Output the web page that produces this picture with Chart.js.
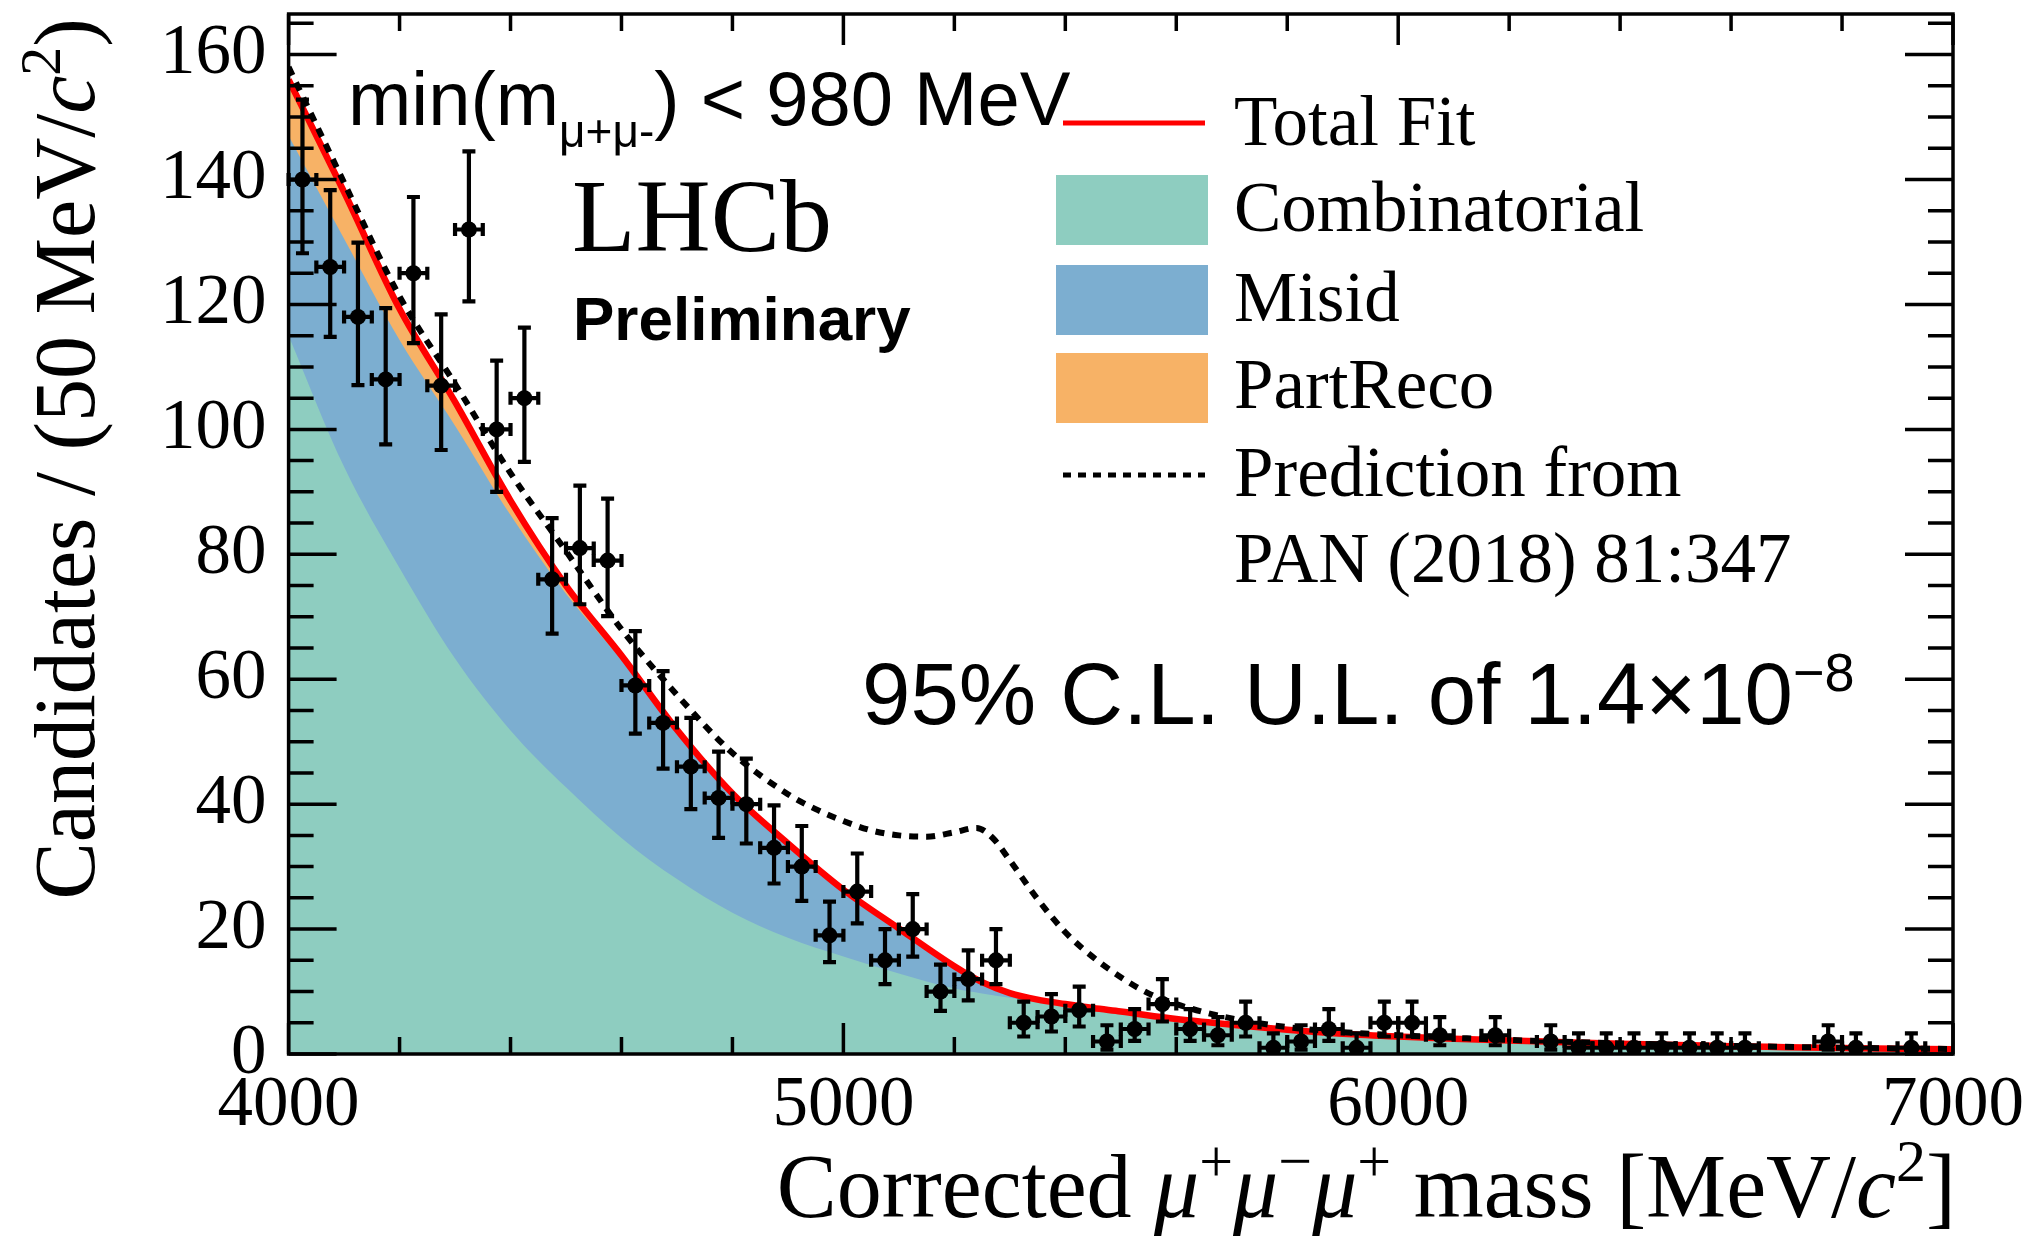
<!DOCTYPE html>
<html>
<head>
<meta charset="utf-8">
<script src="https://cdn.jsdelivr.net/npm/chart.js@4.4.1/dist/chart.umd.min.js"></script>
<style>
  html, body { margin: 0; padding: 0; background: #ffffff; }
  #wrap { width: 2037px; height: 1241px; }
</style>
</head>
<body>
<div id="wrap"><canvas id="c" width="2037" height="1241"></canvas></div>
<script>
// ---- Data: corrected mu+ mu- mu+ mass, 50 MeV/c^2 bins ----
const binCentres = [4025,4075,4125,4175,4225,4275,4325,4375,4425,4475,
                    4525,4575,4625,4675,4725,4775,4825,4875,4925,4975,
                    5025,5075,5125,5175,5225,5275,5325,5375,5425,5475,
                    5525,5575,5625,5675,5725,5775,5825,5875,5925,5975,
                    6025,6075,6125,6175,6225,6275,6325,6375,6425,6475,
                    6525,6575,6625,6675,6725,6775,6825,6875,6925,6975];
// Candidates per bin (null = empty bin, not drawn)
const counts = [140,126,118,108,125,107,132,100,105,76,
                81,79,59,53,46,41,40,33,30,19,
                26,15,20,10,12,15,5,6,7,2,
                4,8,4,3,5,1,2,4,1,5,
                5,3,null,3,null,2,1,1,1,1,
                1,1,1,null,null,2,1,null,1,null];
// Asymmetric (Poisson) error bars
const errLow  = [11.8,11.2,10.9,10.4,11.2,10.3,11.5,10.0,10.2,8.7,
                 9.0,8.9,7.7,7.3,6.8,6.4,6.3,5.7,5.5,4.3,
                 5.1,3.8,4.4,3.1,3.4,3.8,2.2,2.4,2.6,1.3,
                 1.9,2.8,1.9,1.6,2.2,0.8,1.3,1.9,0.8,2.2,
                 2.2,1.6,null,1.6,null,1.3,0.8,0.8,0.8,0.8,
                 0.8,0.8,0.8,null,null,1.3,0.8,null,0.8,null];
const errHigh = [12.8,12.3,11.9,11.4,12.2,11.4,12.5,11.0,11.3,9.8,
                 10.0,9.9,8.7,8.3,7.8,7.4,7.3,6.8,6.5,5.4,
                 6.1,5.0,5.6,4.3,4.6,5.0,3.4,3.6,3.8,2.6,
                 3.2,4.0,3.2,2.9,3.4,2.3,2.6,3.2,2.3,3.4,
                 3.4,2.9,null,2.9,null,2.6,2.3,2.3,2.3,2.3,
                 2.3,2.3,2.3,null,null,2.6,2.3,null,2.3,null];
const binHalfWidth = 25;

// ---- Fit components ----
const fitMass = [4000,4100,4200,4300,4400,4500,4600,4700,4800,4900,
                 5000,5100,5200,5250,5300,5350,5400,5450,5500,5600,
                 5700,5800,5900,6000,6100,6200,6300,6400,6500,6600,
                 6700,6800,6900,7000];
const combinatorial = [115,94,77.8,63.3,51.8,42.7,34.6,28,22.6,18.6,
                       15.6,12.9,10.5,9.7,9.0,8.4,7.9,7.35,6.8,5.6,
                       4.7,3.9,3.25,2.8,2.45,2.15,1.9,1.65,1.45,1.25,
                       1.1,0.95,0.85,0.75];
const misid = [32,36.5,36.5,37.3,34.5,31,28.5,23.5,18.8,14.8,
               10.5,7.0,3.4,1.7,0.7,0.3,0.1,0,0,0,
               0,0,0,0,0,0,0,0,0,0,
               0,0,0,0];
const partReco = [9,7.5,5,3.8,2.3,1.3,0.7,0.4,0.3,0.3,
                  0.2,0.2,0.15,0.1,0.05,0,0,0,0,0,
                  0,0,0,0,0,0,0,0,0,0,
                  0,0,0,0];

// ---- Prediction from PAN (2018) 81:347 ----
const predMass = [4000,4100,4200,4300,4400,4500,4600,4700,4800,4900,
                  4950,5000,5050,5100,5150,5200,5240,5270,5300,5350,
                  5400,5450,5500,5550,5600,5650,5700,5800,5900,6000,
                  6200,6400,6600,6800,7000];
const prediction = [158,139.5,121.3,107.3,93,80.5,68,57.5,48.2,41.6,
                    39.2,37.3,35.8,35.0,34.8,35.5,36.2,34.5,31.0,24.8,
                    19.5,15.5,12.3,9.7,8.0,6.7,5.7,4.3,3.5,3.0,
                    2.25,1.7,1.3,1.0,0.8];

// ---- Axis ticks ----
const xTicks = [4000,5000,6000,7000];
const yTicks = [0,20,40,60,80,100,120,140,160];
const xRange = [4000,7000];
const yRange = [0,166.5];

// ---- Styling ----
const COLORS = {
  comb: '#8ecdc0',
  misid: '#7caed0',
  part: '#f7b266',
  fit: '#ff0000',
  ink: '#000000'
};
const SERIF = "'Liberation Serif', 'Times New Roman', serif";
const SANS = "'Liberation Sans', Arial, Helvetica, sans-serif";

// cumulative stacks for the filled components
const stackComb = combinatorial.map((v, i) => ({ x: fitMass[i], y: v }));
const stackMisid = combinatorial.map((v, i) => ({ x: fitMass[i], y: v + misid[i] }));
const stackTotal = combinatorial.map((v, i) => ({ x: fitMass[i], y: v + misid[i] + partReco[i] }));

const lineBase = {
  pointRadius: 0,
  pointHoverRadius: 0,
  cubicInterpolationMode: 'monotone',
  borderColor: 'rgba(0,0,0,0)',
  borderWidth: 0
};

const datasets = [
  Object.assign({}, lineBase, { label: 'PartReco', data: stackTotal, fill: 'origin',
    backgroundColor: COLORS.part, order: 6 }),
  Object.assign({}, lineBase, { label: 'Misid', data: stackMisid, fill: 'origin',
    backgroundColor: COLORS.misid, order: 5 }),
  Object.assign({}, lineBase, { label: 'Combinatorial', data: stackComb, fill: 'origin',
    backgroundColor: COLORS.comb, order: 4 }),
  Object.assign({}, lineBase, { label: 'Total Fit', data: stackTotal, fill: false,
    borderColor: COLORS.fit, borderWidth: 6.5, order: 3 }),
  Object.assign({}, lineBase, { label: 'Prediction from|PAN (2018) 81:347',
    data: predMass.map((m, i) => ({ x: m, y: prediction[i] })), fill: false,
    borderColor: COLORS.ink, borderWidth: 6, borderDash: [9, 8], order: 2 }),
  { label: 'Data', data: binCentres.map((m, i) => ({ x: m, y: counts[i] })),
    showLine: false, pointRadius: 8, pointHoverRadius: 8, pointStyle: 'circle',
    pointBackgroundColor: COLORS.ink, pointBorderWidth: 0, order: 1 }
];

// error bars on the data points
const errorBars = {
  id: 'errorBars',
  afterDatasetsDraw(chart) {
    const { ctx, scales: { x, y } } = chart;
    ctx.save();
    ctx.strokeStyle = COLORS.ink;
    ctx.lineWidth = 4.2;
    ctx.lineCap = 'butt';
    const cap = 6.5;
    binCentres.forEach((m, i) => {
      if (counts[i] === null) return;
      const px = x.getPixelForValue(m);
      const py = y.getPixelForValue(counts[i]);
      const yLo = y.getPixelForValue(Math.max(0, counts[i] - errLow[i]));
      const yHi = y.getPixelForValue(counts[i] + errHigh[i]);
      const xL = x.getPixelForValue(m - binHalfWidth);
      const xR = x.getPixelForValue(m + binHalfWidth);
      ctx.beginPath();
      ctx.moveTo(px, yLo); ctx.lineTo(px, yHi);
      ctx.moveTo(px - cap, yLo); ctx.lineTo(px + cap, yLo);
      ctx.moveTo(px - cap, yHi); ctx.lineTo(px + cap, yHi);
      ctx.moveTo(xL, py); ctx.lineTo(xR, py);
      ctx.moveTo(xL, py - cap); ctx.lineTo(xL, py + cap);
      ctx.moveTo(xR, py - cap); ctx.lineTo(xR, py + cap);
      ctx.stroke();
    });
    ctx.restore();
  }
};

// frame with inward ticks on all four sides
const frameTicks = {
  id: 'frameTicks',
  afterDatasetsDraw(chart) {
    const { ctx, chartArea: a, scales: { x, y } } = chart;
    ctx.save();
    ctx.strokeStyle = COLORS.ink;
    ctx.lineWidth = 3.5;
    ctx.beginPath();
    const yMinorStep = 5, yMajorStep = 20;
    for (let v = yRange[0]; v <= yRange[1]; v += yMinorStep) {
      const py = y.getPixelForValue(v);
      const len = (v % yMajorStep === 0) ? 48 : 25;
      ctx.moveTo(a.left, py); ctx.lineTo(a.left + len, py);
      ctx.moveTo(a.right, py); ctx.lineTo(a.right - len, py);
    }
    const xMinorStep = 200, xMajorStep = 1000;
    for (let v = xRange[0]; v <= xRange[1]; v += xMinorStep) {
      const px = x.getPixelForValue(v);
      const len = (v % xMajorStep === 0) ? 31 : 17;
      ctx.moveTo(px, a.bottom); ctx.lineTo(px, a.bottom - len);
      ctx.moveTo(px, a.top); ctx.lineTo(px, a.top + len);
    }
    ctx.stroke();
    ctx.lineWidth = 3.5;
    ctx.strokeRect(a.left, a.top, a.right - a.left, a.bottom - a.top);
    ctx.restore();
  }
};

// draw a run of text pieces with different fonts / offsets
function drawRuns(ctx, runs, x, y, align) {
  let total = 0;
  runs.forEach(r => { ctx.font = r.font; r.w = ctx.measureText(r.text).width; total += r.w; });
  let cx = align === 'right' ? x - total : x;
  runs.forEach(r => {
    ctx.font = r.font;
    ctx.fillText(r.text, cx, y + (r.dy || 0));
    cx += r.w;
  });
}

// labels, titles and legend
const annotations = {
  id: 'annotations',
  afterDraw(chart) {
    const { ctx } = chart;
    ctx.save();
    ctx.fillStyle = COLORS.ink;
    ctx.textBaseline = 'alphabetic';
    ctx.textAlign = 'left';

    // x axis title
    const xf = '90px ' + SERIF, xi = 'italic 90px ' + SERIF, xs = '60px ' + SERIF;
    drawRuns(ctx, [
      { text: 'Corrected ', font: xf },
      { text: '\u03bc', font: xi }, { text: '+', font: xs, dy: -36 },
      { text: '\u03bc', font: xi }, { text: '\u2212', font: xs, dy: -36 },
      { text: '\u03bc', font: xi }, { text: '+', font: xs, dy: -36 },
      { text: ' mass [MeV/', font: xf },
      { text: 'c', font: xi }, { text: '2', font: xs, dy: -36 },
      { text: ']', font: xf }
    ], 1956, 1217, 'right');

    // y axis title
    const yf = '86px ' + SERIF, yi = 'italic 86px ' + SERIF, ys = '58px ' + SERIF;
    ctx.save();
    ctx.translate(94, 18);
    ctx.rotate(-Math.PI / 2);
    drawRuns(ctx, [
      { text: 'Candidates / (50 MeV/', font: yf },
      { text: 'c', font: yi }, { text: '2', font: ys, dy: -34 },
      { text: ')', font: yf }
    ], 0, 0, 'right');
    ctx.restore();

    // selection label
    drawRuns(ctx, [
      { text: 'min(m', font: '76px ' + SANS },
      { text: '\u03bc+\u03bc-', font: '46px ' + SANS, dy: 22 },
      { text: ') < 980 MeV', font: '76px ' + SANS }
    ], 348, 125, 'left');

    ctx.font = '104px ' + SERIF;
    ctx.fillText('LHCb', 572, 251);
    ctx.font = 'bold 62px ' + SANS;
    ctx.fillText('Preliminary', 573, 340);

    drawRuns(ctx, [
      { text: '95% C.L. U.L. of 1.4\u00d710', font: '87px ' + SANS },
      { text: '\u22128', font: '54px ' + SANS, dy: -33 }
    ], 862, 724, 'left');

    // legend
    const ds = chart.data.datasets;
    const lgFont = '71px ' + SERIF;
    const swX = 1056, swW = 152, txX = 1234;
    ctx.font = lgFont;
    ctx.strokeStyle = ds[3].borderColor;
    ctx.lineWidth = 5;
    ctx.beginPath(); ctx.moveTo(1063, 123); ctx.lineTo(1205, 123); ctx.stroke();
    ctx.fillText(ds[3].label, txX, 145);
    [[ds[2], 175, 231], [ds[1], 265, 321], [ds[0], 353, 408]].forEach(([d, top, base]) => {
      ctx.fillStyle = d.backgroundColor;
      ctx.fillRect(swX, top, swW, 70);
      ctx.fillStyle = COLORS.ink;
      ctx.fillText(d.label, txX, base);
    });
    ctx.strokeStyle = COLORS.ink;
    ctx.lineWidth = 5;
    ctx.setLineDash([8, 7]);
    ctx.beginPath(); ctx.moveTo(1063, 475); ctx.lineTo(1205, 475); ctx.stroke();
    ctx.setLineDash([]);
    const predLines = ds[4].label.split('|');
    ctx.fillText(predLines[0], txX, 496);
    ctx.fillText(predLines[1], txX, 582);
    ctx.restore();
  }
};

new Chart(document.getElementById('c'), {
  type: 'line',
  data: { datasets },
  options: {
    responsive: false,
    devicePixelRatio: 1,
    animation: false,
    events: [],
    layout: { padding: { left: 0, top: 14, right: 84, bottom: 0 } },
    plugins: { legend: { display: false }, tooltip: { enabled: false }, title: { display: false } },
    scales: {
      x: {
        type: 'linear', min: xRange[0], max: xRange[1],
        afterBuildTicks: s => { s.ticks = xTicks.map(v => ({ value: v })); },
        afterFit: s => { s.height = 187; s.paddingLeft = 0; s.paddingRight = 0; },
        grid: { display: false, drawTicks: false },
        border: { display: false },
        ticks: { color: COLORS.ink, font: { family: SERIF, size: 71 }, padding: 10,
                 maxRotation: 0, autoSkip: false, callback: v => String(v) }
      },
      y: {
        type: 'linear', min: yRange[0], max: yRange[1],
        afterBuildTicks: s => { s.ticks = yTicks.map(v => ({ value: v })); },
        afterFit: s => { s.width = 288.6; s.paddingTop = 0; s.paddingBottom = 0; },
        grid: { display: false, drawTicks: false },
        border: { display: false },
        ticks: { color: COLORS.ink, font: { family: SERIF, size: 71 }, padding: 22,
                 autoSkip: false, callback: v => String(v) }
      }
    }
  },
  plugins: [errorBars, frameTicks, annotations]
});
</script>
</body>
</html>
